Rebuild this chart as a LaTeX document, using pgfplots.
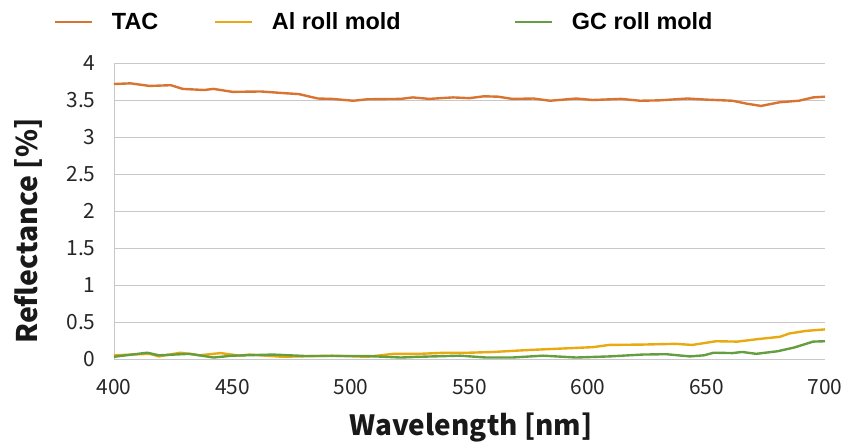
\documentclass[border=0pt]{standalone}
\usepackage{pgfplots}
\pgfplotsset{compat=1.18}
\usepackage{fontspec}
\setmainfont{Noto Sans CJK JP}
\newfontfamily\legfont{Liberation Sans}
\definecolor{cTAC}{RGB}{217,115,49}
\definecolor{cAl}{RGB}{232,170,16}
\definecolor{cGC}{RGB}{100,158,64}
\definecolor{gridc}{RGB}{200,200,200}
\begin{document}
\begin{tikzpicture}
\useasboundingbox (-114bp,-89bp) rectangle (729bp,359bp);
\begin{axis}[
  at={(0,0)}, anchor=south west,
  scale only axis, width=711bp, height=296bp,
  xmin=400, xmax=700, ymin=0, ymax=4,
  xtick={400,450,...,700},
  ytick={0,0.5,...,4},
  yticklabels={0,0.5,1,1.5,2,2.5,3,3.5,4},
  axis lines*=left,
  axis line style={draw=gridc, line width=1pt},
  ymajorgrids, grid style={draw=gridc, line width=1pt},
  major tick length=0pt,
  /pgf/number format/assume math mode=true,
  ticklabel style={font=\fontsize{21}{24}\selectfont, text=black!85},
  xticklabel style={yshift=-17bp},
  yticklabel style={xshift=-15bp},
  legend columns=3,
  legend style={draw=none, fill=none, inner sep=0pt, outer sep=0pt,
    at={(axis description cs:0,1)}, anchor=west, xshift=-60bp, yshift=41bp,
    font=\legfont\bfseries\fontsize{23.5}{26}\selectfont,
    nodes={inner sep=0pt, outer sep=0pt},
    /tikz/every odd column/.append style={column sep=18bp}},
  legend image code/.code={\draw[#1, line width=3pt] (0bp,0bp) -- (37bp,0bp);},
  every axis plot/.append style={line width=2.4pt, line join=round},
]
\addplot[cTAC, no marks] coordinates {
(400,3.716) (407,3.725) (415,3.69) (424,3.70) (429,3.65) (438,3.635) (442,3.65)
(450,3.61) (462,3.615) (473,3.59) (478,3.58) (486,3.52) (492,3.515) (501,3.49)
(507,3.51) (521,3.515) (526,3.535) (533,3.515) (543,3.535) (550,3.525) (556,3.55)
(562,3.545) (568,3.515) (577,3.52) (584,3.49) (595,3.52) (602,3.50) (614,3.515)
(622,3.49) (630,3.495) (642,3.52) (650,3.505) (661,3.49) (667,3.45) (673,3.42)
(681,3.47) (689,3.49) (695,3.535) (700,3.545)};
\addlegendentry{\makebox[102bp][l]{TAC}}
\addplot[cAl, no marks] coordinates {
(400,0.05) (415,0.07) (419,0.035) (428,0.085) (436,0.05) (445,0.08) (453,0.045)
(457,0.06) (471,0.03) (492,0.045) (507,0.03) (518,0.07) (529,0.07) (540,0.085)
(550,0.085) (560,0.095) (574,0.12) (588,0.14) (602,0.16) (609,0.19) (623,0.195)
(637,0.205) (644,0.19) (654,0.24) (663,0.235) (672,0.27) (681,0.30) (685,0.345)
(692,0.38) (700,0.40)};
\addlegendentry{\makebox[242bp][l]{Al roll mold}}
\addplot[cGC, no marks] coordinates {
(400,0.03) (414,0.085) (419,0.05) (432,0.07) (442,0.02) (450,0.045) (467,0.06)
(481,0.04) (507,0.04) (521,0.02) (529,0.03) (546,0.045) (557,0.02) (568,0.02)
(581,0.045) (595,0.02) (609,0.035) (623,0.06) (633,0.065) (643,0.035) (649,0.05)
(653,0.085) (661,0.08) (665,0.095) (671,0.07) (680,0.105) (687,0.155) (695,0.235)
(700,0.24)};
\addlegendentry{GC roll mold}
\end{axis}
\node[font=\bfseries\fontsize{28}{32}\selectfont, text=black!90] at (357bp,-69bp) {Wavelength [nm]};
\node[font=\bfseries\fontsize{28.5}{32}\selectfont, text=black!90, rotate=90] at (-86bp,128bp) {Reflectance [\%]};
\end{tikzpicture}
\end{document}
